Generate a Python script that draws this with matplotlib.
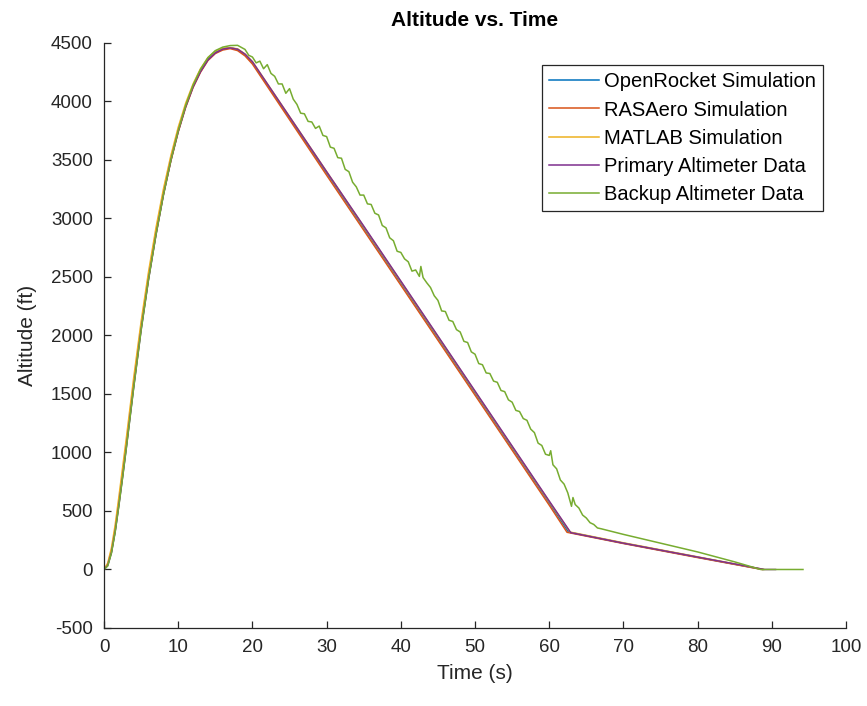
import matplotlib
matplotlib.use('Agg')
import matplotlib.pyplot as plt
import numpy as np

plt.rcParams['font.family'] = ['Liberation Sans', 'DejaVu Sans']
plt.rcParams['axes.unicode_minus'] = False

# simulated flights (time in s, altitude in ft)
or_time = [0, 0.5, 1, 1.5, 2, 2.5, 3, 4, 5, 6, 7, 8, 9, 10, 11, 12, 13, 14, 15, 16, 17, 18, 19, 20,
           30, 40, 50, 60, 62.6, 70, 80, 88.8]
or_alt = [0, 40, 150, 330, 560, 800, 1050, 1570, 2060, 2490, 2870, 3210, 3500, 3750, 3960, 4130,
          4260, 4360, 4420, 4450, 4460, 4445, 4400, 4330, 3390, 2450, 1510, 570, 320, 225, 105, 0]

ras_time = [0, 0.5, 1, 1.5, 2, 2.5, 3, 4, 5, 6, 7, 8, 9, 10, 11, 12, 13, 14, 15, 16, 17, 18, 19, 20,
            30, 40, 50, 60, 62.4, 70, 80, 88.7]
ras_alt = [0, 45, 160, 345, 575, 815, 1065, 1585, 2070, 2495, 2870, 3205, 3490, 3740, 3950, 4120,
           4250, 4350, 4410, 4440, 4452, 4435, 4390, 4320, 3370, 2430, 1490, 550, 318, 222, 102, 0]

mat_time = [0, 0.5, 1, 1.5, 2, 2.5, 3, 4, 5, 6, 7, 8, 9, 10, 11, 12, 13, 14, 15, 16, 17, 18, 19, 20,
            30, 40, 50, 60, 62.8, 70, 80, 88.9]
mat_alt = [0, 55, 185, 380, 620, 870, 1120, 1640, 2120, 2545, 2920, 3250, 3535, 3780, 3985, 4150,
           4280, 4375, 4430, 4455, 4460, 4450, 4405, 4340, 3400, 2460, 1520, 580, 320, 228, 108, 0]

# flight data
pri_time = [0, 0.5, 1, 1.5, 2, 2.5, 3, 4, 5, 6, 7, 8, 9, 10, 11, 12, 13, 14, 15, 16, 17, 18, 19, 20,
            25, 30, 35, 40, 45, 50, 55, 60, 62.9, 70, 80, 89.0, 90.5]
pri_alt = [0, 35, 145, 325, 550, 790, 1040, 1560, 2050, 2480, 2860, 3200, 3495, 3745, 3955, 4125,
           4255, 4355, 4415, 4448, 4458, 4447, 4405, 4340, 3870, 3400, 2935, 2465, 1995, 1525, 1055,
           585, 315, 225, 106, 0, 0]

bk_time = [0, 0.5, 1, 1.5, 2, 2.5, 3, 4, 5, 6, 7, 8, 9, 10, 11, 12, 13, 14, 15, 16, 17,
           18.0, 18.5, 19.0, 19.5, 20.0, 20.5, 21.0, 21.5, 22.0, 22.5, 23.0, 23.5, 24.0, 24.5, 25.0,
           25.5, 26.0, 26.5, 27.0, 27.5, 28.0, 28.5, 29.0, 29.5, 30.0, 30.5, 31.0, 31.5, 32.0, 32.5,
           33.0, 33.5, 34.0, 34.5, 35.0, 35.5, 36.0, 36.5, 37.0, 37.5, 38.0, 38.5, 39.0, 39.5, 40.0,
           40.5, 41.0, 41.5, 42.0, 42.5, 42.7, 43.0, 43.5, 44.0, 44.5, 45.0, 45.5, 46.0, 46.5, 47.0,
           47.5, 48.0, 48.5, 49.0, 49.5, 50.0, 50.5, 51.0, 51.5, 52.0, 52.5, 53.0, 53.5, 54.0, 54.5,
           55.0, 55.5, 56.0, 56.5, 57.0, 57.5, 58.0, 58.5, 59.0, 59.5, 60.0, 60.2, 60.5, 61.0, 61.5,
           62.0, 62.5, 63.0, 63.2, 63.5, 64.0, 64.5, 65.0, 65.5, 66.0, 66.5, 67.0,
           70, 75, 80, 85, 88.5, 90, 94.2]
bk_alt = [0, 30, 140, 320, 545, 785, 1035, 1555, 2045, 2480, 2860, 3200, 3495, 3750, 3965, 4140,
          4275, 4375, 4435, 4465, 4478,
          4480, 4462, 4445, 4395, 4380, 4330, 4345, 4280, 4315, 4240, 4215, 4150, 4150, 4070, 4110,
          4020, 3975, 3900, 3895, 3830, 3825, 3770, 3790, 3710, 3700, 3610, 3600, 3520, 3515, 3420,
          3400, 3310, 3270, 3200, 3200, 3125, 3120, 3045, 3030, 2940, 2920, 2835, 2810, 2720, 2710,
          2655, 2630, 2550, 2560, 2505, 2590, 2495, 2450, 2410, 2340, 2300, 2210, 2205, 2130, 2120,
          2050, 2030, 1950, 1940, 1860, 1840, 1760, 1750, 1680, 1675, 1610, 1600, 1530, 1520, 1450,
          1430, 1360, 1350, 1290, 1275, 1200, 1170, 1080, 1060, 985, 975, 1015, 895, 860, 765,
          730, 655, 540, 615, 555, 525, 465, 440, 400, 385, 355, 348,
          300, 225, 150, 65, 0, 0, 0]

series = [
    ('OpenRocket Simulation', or_time, or_alt),
    ('RASAero Simulation', ras_time, ras_alt),
    ('MATLAB Simulation', mat_time, mat_alt),
    ('Primary Altimeter Data', pri_time, pri_alt),
    ('Backup Altimeter Data', bk_time, bk_alt),
]
colors = ['#0072bd', '#d95319', '#edb120', '#7e2f8e', '#77ac30']

fig = plt.figure(figsize=(8.67, 7.06), dpi=100)
ax = fig.add_axes([0.12, 0.1105, 0.8558, 0.8286])

for (name, t, alt), c in zip(series, colors):
    ax.plot(t, alt, color=c, lw=1.1, label=name)

ax.set_xlim(0, 100)
ax.set_ylim(-500, 4500)
ax.set_xticks(np.arange(0, 101, 10))
ax.set_yticks(np.arange(-500, 4501, 500))

dark = '#262626'
for side in ['top', 'right']:
    ax.spines[side].set_visible(False)
for side in ['left', 'bottom']:
    ax.spines[side].set_color(dark)
    ax.spines[side].set_linewidth(0.9)
ax.tick_params(direction='in', length=5, width=0.9, colors=dark, labelsize=13.5, pad=8)

ax.set_xlabel('Time (s)', fontsize=15, color=dark, labelpad=6)
ax.set_ylabel('Altitude (ft)', fontsize=15, color=dark, labelpad=10)
ax.set_title('Altitude vs. Time', fontsize=15, fontweight='bold', color='black', pad=12)

leg = ax.legend(loc='upper right', bbox_to_anchor=(0.969, 0.962), fontsize=14.5,
                fancybox=False, framealpha=1, edgecolor=dark, handlelength=2.5,
                handletextpad=0.25, labelspacing=0.46, borderpad=0.35, borderaxespad=0)
leg.get_frame().set_linewidth(0.9)

fig.savefig('out.png', dpi=100)
